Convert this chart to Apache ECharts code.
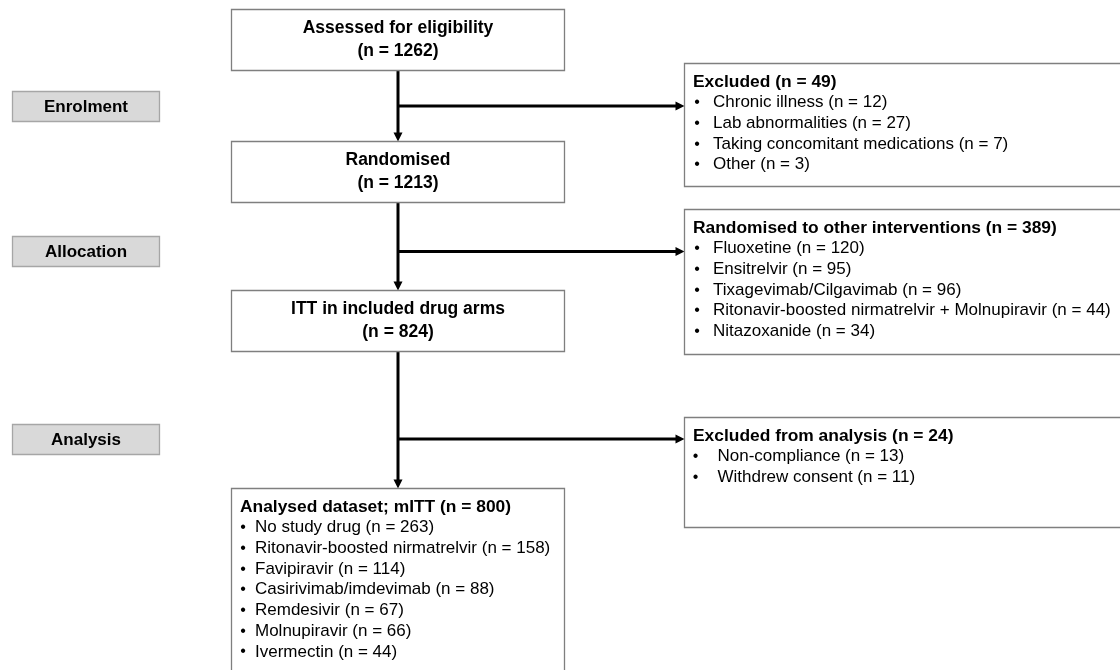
<!DOCTYPE html>
<html><head><meta charset="utf-8">
<script src="https://cdn.jsdelivr.net/npm/echarts@6/dist/echarts.min.js"></script>
<style>html,body{margin:0;padding:0;background:#fff}#c{width:1120px;height:670px}</style>
</head><body><div id="c"></div><script>
// ---------------- data ----------------
const stages = ['Enrolment', 'Allocation', 'Analysis'];
const mainSteps = ['Assessed for eligibility', 'Randomised', 'ITT in included drug arms'];
const mainCounts = [1262, 1213, 824];
const excludedReasons = ['Chronic illness', 'Lab abnormalities', 'Taking concomitant medications', 'Other'];
const excludedCounts = [12, 27, 7, 3];
const otherInterventions = ['Fluoxetine', 'Ensitrelvir', 'Tixagevimab/Cilgavimab', 'Ritonavir-boosted nirmatrelvir + Molnupiravir', 'Nitazoxanide'];
const otherCounts = [120, 95, 96, 44, 34];
const analysisExclusions = ['Non-compliance', 'Withdrew consent'];
const analysisExclCounts = [13, 11];
const analysedArms = ['No study drug', 'Ritonavir-boosted nirmatrelvir', 'Favipiravir', 'Casirivimab/imdevimab', 'Remdesivir', 'Molnupiravir', 'Ivermectin'];
const analysedCounts = [263, 158, 114, 88, 67, 66, 44];

// ---------------- layout (data space 1120 x 670) ----------------
const stageBoxLayout = [[12.5, 91.5, 159.5, 121.5], [12.5, 236.5, 159.5, 266.5], [12.5, 424.5, 159.5, 454.5]];
const mainBoxLayout = [[231.5, 9.5, 564.5, 70.5], [231.5, 141.5, 564.5, 202.5], [231.5, 290.5, 564.5, 351.5]];
const sideBoxLayout = [[684.5, 63.5, 1130, 186.5], [684.5, 209.5, 1130, 354.5], [684.5, 417.5, 1130, 527.5]];
const analysedBoxLayout = [231.5, 488.5, 564.5, 690];
const sideTextX = [[693, 697, 713], [693, 697, 713], [693, 695.5, 717.5]]; // title, bullet, item
const analysedTextX = [240, 243, 255];
const spineX = 398;
const arrowLayout = [
  [spineX, 70.5, spineX, 141.5], [spineX, 106, 684.5, 106],
  [spineX, 202.5, spineX, 290.5], [spineX, 251.5, 684.5, 251.5],
  [spineX, 351.5, spineX, 488.5], [spineX, 439, 684.5, 439]
];

// ---------------- build ----------------
const sum = a => a.reduce((s, v) => s + v, 0);
const nText = n => '(n = ' + n + ')';
const boxes = [];
stages.forEach((s, i) => {
  const L = stageBoxLayout[i];
  boxes.push({ r: L, fill: '#d9d9d9', stroke: '#a6a6a6',
    texts: [{ t: s, x: (L[0] + L[2]) / 2, y: (L[1] + L[3]) / 2 + 0.5, b: true, a: 'center', fs: 17 }] });
});
mainSteps.forEach((s, i) => {
  const L = mainBoxLayout[i], cx = (L[0] + L[2]) / 2;
  boxes.push({ r: L, fill: '#ffffff', stroke: '#7f7f7f',
    texts: [{ t: s, x: cx, y: L[1] + 19, b: true, a: 'center', fs: 17.5 },
            { t: nText(mainCounts[i]), x: cx, y: L[1] + 41.5, b: true, a: 'center', fs: 17.5 }] });
});
function listBox(L, tx, title, names, counts) {
  const texts = [{ t: title + ' ' + nText(sum(counts)), x: tx[0], y: L[1] + 18.5, b: true, a: 'left', fs: 17.4 }];
  names.forEach((nm, j) => {
    const y = L[1] + 18.5 + 20.7 * (j + 1);
    texts.push({ t: '•', x: tx[1], y: y, b: false, a: 'center', fs: 16 });
    texts.push({ t: nm + ' ' + nText(counts[j]), x: tx[2], y: y, b: false, a: 'left', fs: 17 });
  });
  boxes.push({ r: L, fill: '#ffffff', stroke: '#7f7f7f', texts });
}
listBox(sideBoxLayout[0], sideTextX[0], 'Excluded', excludedReasons, excludedCounts);
listBox(sideBoxLayout[1], sideTextX[1], 'Randomised to other interventions', otherInterventions, otherCounts);
listBox(sideBoxLayout[2], sideTextX[2], 'Excluded from analysis', analysisExclusions, analysisExclCounts);
listBox(analysedBoxLayout, analysedTextX, 'Analysed dataset; mITT', analysedArms, analysedCounts);

const FAMILY = '"Liberation Sans", Arial, sans-serif';

const chart = echarts.init(document.getElementById('c'), null, { renderer: 'canvas' });
chart.setOption({
  animation: false,
  backgroundColor: '#ffffff',
  grid: { left: 0, right: 0, top: 0, bottom: 0 },
  xAxis: { type: 'value', min: 0, max: 1120, show: false },
  yAxis: { type: 'value', min: 0, max: 670, inverse: true, show: false },
  series: [
    {
      type: 'custom', coordinateSystem: 'cartesian2d', clip: false,
      encode: { x: 0, y: 1 },
      data: arrowLayout.map((a, i) => [a[0], a[1], i]),
      renderItem: function (params, api) {
        const a = arrowLayout[api.value(2)];
        const p0 = api.coord([a[0], a[1]]), p1 = api.coord([a[2], a[3]]);
        const dx = p1[0] - p0[0], dy = p1[1] - p0[1];
        const len = Math.sqrt(dx * dx + dy * dy), ux = dx / len, uy = dy / len;
        const hl = 9, hw = 4.5;
        const bx = p1[0] - ux * hl, by = p1[1] - uy * hl;
        return { type: 'group', children: [
          { type: 'line', shape: { x1: p0[0], y1: p0[1], x2: bx + ux, y2: by + uy },
            style: { stroke: '#000', lineWidth: 3 } },
          { type: 'polygon', shape: { points: [[p1[0], p1[1]], [bx - uy * hw, by + ux * hw], [bx + uy * hw, by - ux * hw]] },
            style: { fill: '#000' } }
        ] };
      }
    },
    {
      type: 'custom', coordinateSystem: 'cartesian2d', clip: false,
      encode: { x: 0, y: 1 },
      data: boxes.map((b, i) => [b.r[0], b.r[1], i]),
      renderItem: function (params, api) {
        const b = boxes[api.value(2)];
        const p0 = api.coord([b.r[0], b.r[1]]), p1 = api.coord([b.r[2], b.r[3]]);
        const children = [{ type: 'rect',
          shape: { x: p0[0], y: p0[1], width: p1[0] - p0[0], height: p1[1] - p0[1] },
          style: { fill: b.fill, stroke: b.stroke, lineWidth: 1.3 } }];
        b.texts.forEach(t => {
          const p = api.coord([t.x, t.y]);
          children.push({ type: 'text', style: { text: t.t, x: p[0], y: p[1], fill: '#000',
            font: (t.b ? 'bold ' : '') + t.fs + 'px ' + FAMILY, align: t.a, verticalAlign: 'middle' } });
        });
        return { type: 'group', children };
      }
    }
  ]
});
</script></body></html>
